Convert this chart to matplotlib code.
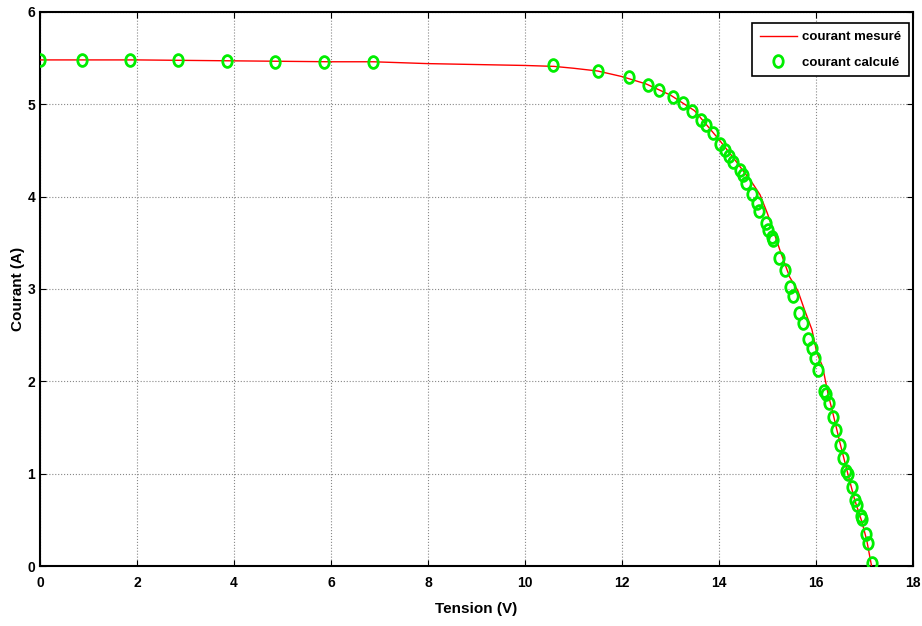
import numpy as np
import matplotlib.pyplot as plt
from matplotlib.markers import MarkerStyle
from matplotlib.transforms import Affine2D

plt.rcParams['font.family'] = ['Liberation Sans Narrow', 'Liberation Sans', 'DejaVu Sans']
plt.rcParams['font.weight'] = 'bold'

# courant mesuré (red curve)
v_mes = [0, 2, 4, 6, 6.87, 8, 9, 10, 10.6, 11, 11.5, 12, 12.5, 13, 13.5, 14, 14.3,
         14.5, 14.7, 14.85, 15.0, 15.1, 15.26, 15.46, 15.63, 15.77, 15.92, 16.02,
         16.14, 16.25, 16.35, 16.5, 16.65, 16.8, 16.95, 17.05, 17.15]
i_mes = [5.48, 5.48, 5.47, 5.46, 5.46, 5.44, 5.43, 5.42, 5.41, 5.39, 5.36, 5.30,
         5.22, 5.10, 4.93, 4.62, 4.42, 4.28, 4.14, 4.02, 3.82, 3.67, 3.42, 3.13,
         2.98, 2.77, 2.56, 2.31, 2.16, 1.87, 1.66, 1.33, 1.02, 0.72, 0.48, 0.28, 0.0]

# courant calculé (green circles)
v_cal = [0, 0.87, 1.86, 2.85, 3.86, 4.85, 5.85, 6.87, 10.58, 11.51, 12.14, 12.54,
         12.77, 13.06, 13.26, 13.45, 13.64, 13.73, 13.88, 14.03, 14.12, 14.2, 14.3,
         14.43, 14.5, 14.56, 14.68, 14.78, 14.83, 14.97, 15.01, 15.09, 15.11, 15.24,
         15.36, 15.46, 15.53, 15.65, 15.73, 15.84, 15.92, 15.98, 16.04, 16.16, 16.2,
         16.27, 16.35, 16.41, 16.49, 16.56, 16.62, 16.66, 16.74, 16.8, 16.84, 16.93,
         16.95, 17.03, 17.07, 17.15]
i_cal = [5.48, 5.48, 5.48, 5.48, 5.47, 5.46, 5.46, 5.46, 5.42, 5.36, 5.29, 5.21,
         5.15, 5.08, 5.01, 4.93, 4.83, 4.77, 4.69, 4.57, 4.51, 4.44, 4.37, 4.29,
         4.23, 4.15, 4.03, 3.93, 3.84, 3.71, 3.64, 3.56, 3.53, 3.34, 3.20, 3.02,
         2.92, 2.74, 2.63, 2.46, 2.36, 2.25, 2.12, 1.90, 1.86, 1.76, 1.61, 1.47,
         1.31, 1.17, 1.03, 1.00, 0.86, 0.72, 0.66, 0.54, 0.51, 0.35, 0.25, 0.03]

fig = plt.figure(figsize=(9.22, 6.26), dpi=100)
ax = fig.add_axes([0.0434, 0.0958, 0.9466, 0.8852])

circ = MarkerStyle('o', fillstyle='none', transform=Affine2D().scale(0.8, 1.0))
ax.plot(v_mes, i_mes, color='red', lw=1, label='courant mesuré', zorder=3)
ax.plot(v_cal, i_cal, ls='none', marker=circ, ms=8.5, mec='#00ee00', mew=2,
        label='courant calculé', zorder=4)

ax.set_xlim(0, 18)
ax.set_ylim(0, 6)
ax.set_xticks(np.arange(0, 19, 2))
ax.set_yticks(np.arange(0, 7, 1))
ax.grid(True, ls=':', color='#888888', lw=0.8)
ax.tick_params(direction='in', top=True, right=True, labelsize=10, length=4)
ax.tick_params(axis='x', pad=7)
for lab in ax.get_xticklabels() + ax.get_yticklabels():
    lab.set_fontweight('bold')
for s in ax.spines.values():
    s.set_linewidth(1.5)

ax.set_xlabel('Tension (V)', fontsize=11, fontweight='bold', labelpad=9)
ax.set_ylabel('Courant (A)', fontsize=11, fontweight='bold', labelpad=2)

leg = ax.legend(loc='upper right', bbox_to_anchor=(0.996, 0.98), frameon=True,
                fancybox=False, edgecolor='black', framealpha=1, borderaxespad=0,
                handlelength=2.8, labelspacing=1.0, borderpad=0.6,
                handletextpad=0.4, prop={'weight': 'bold', 'size': 9.5})
leg.get_frame().set_linewidth(1.2)

fig.savefig('out.png', dpi=100)
